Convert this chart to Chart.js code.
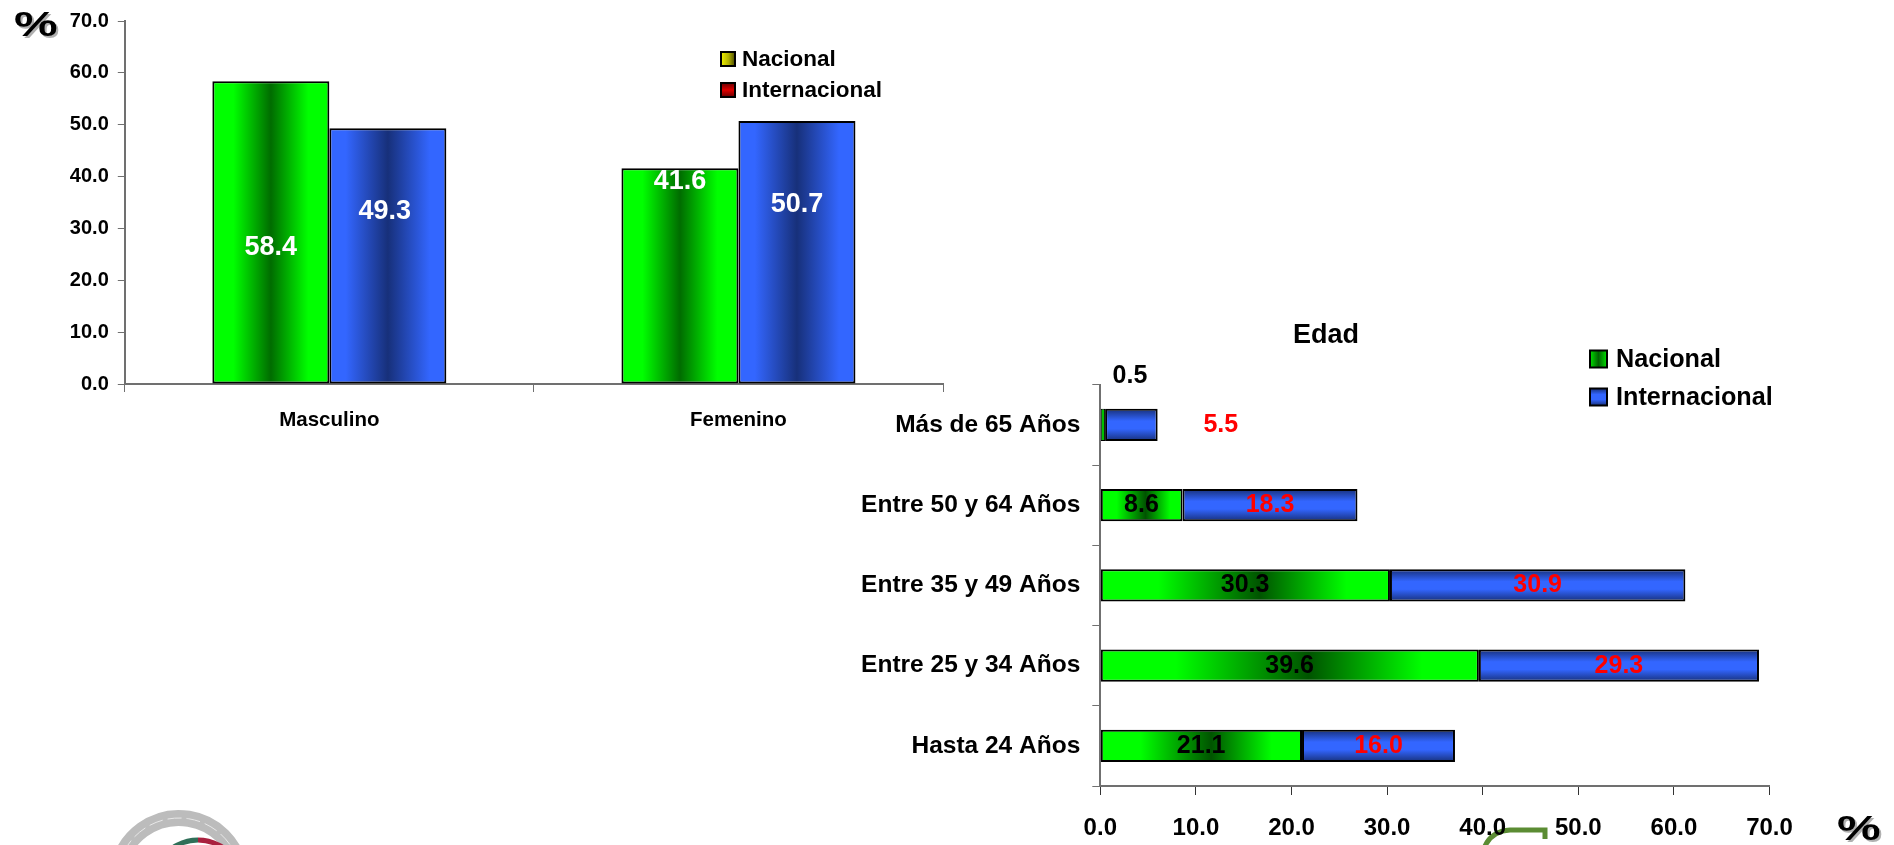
<!DOCTYPE html>
<html>
<head>
<meta charset="utf-8">
<title>Nacional e Internacional</title>
<script src="https://cdn.jsdelivr.net/npm/chart.js@4"></script>
<style>
  html, body { margin: 0; padding: 0; background: #fff; overflow: hidden; }
  canvas { position: absolute; left: 0; top: 0; }
</style>
</head>
<body>
<canvas id="sexChart" width="1894" height="845"></canvas>
<canvas id="ageChart" width="1894" height="845"></canvas>
<script>
// data
const seriesNames = ["Nacional", "Internacional"];

const sexCategories = ["Masculino", "Femenino"];
const sexNacional = [58.4, 41.6];
const sexInternacional = [49.3, 50.7];
// the labels sit by hand inside the bars, height given in axis units
const sexNacionalLabelAt = [26.4, 39.1];
const sexInternacionalLabelAt = [33.2, 34.7];

const ageCategories = ["Más de 65 Años", "Entre 50 y 64 Años", "Entre 35 y 49 Años", "Entre 25 y 34 Años", "Hasta 24 Años"];
const ageNacional = [0.5, 8.6, 30.3, 39.6, 21.1];
const ageInternacional = [5.5, 18.3, 30.9, 29.3, 16.0];

const FONT = '"Liberation Sans", Arial, sans-serif';
Chart.defaults.font.family = FONT;
Chart.defaults.font.weight = "bold";
Chart.defaults.color = "#000";

const AXIS_GRAY = "#707070";
const SEX_GROUP = 0.572; // share of the category taken by the two bars
const AGE_BAR = 0.4;

function stops(g, list) {
  list.forEach(([at, color]) => g.addColorStop(at, color));
  return g;
}
const GREEN_X = [[0, "#00ff00"], [0.18, "#00ff00"], [0.5, "#006c00"], [0.82, "#00ff00"], [1, "#00ff00"]];
const BLUE_X = [[0, "#3366ff"], [0.14, "#3366ff"], [0.5, "#17307a"], [0.86, "#3366ff"], [1, "#3366ff"]];
const GREEN_BAR = [[0, "#00ff00"], [0.2, "#00ff00"], [0.55, "#005400"], [0.85, "#00ff00"], [1, "#00ff00"]];
const BLUE_BAR = [[0, "#17307a"], [0.38, "#3366ff"], [0.62, "#3366ff"], [1, "#17307a"]];

// vertical bars: dark band runs down the middle of each bar
function sexFill(datasetIndex, list) {
  return (c) => {
    const x = c.chart.scales.x;
    if (!x || c.dataIndex === undefined) return list[0][1];
    const centre = x.getPixelForValue(c.dataIndex);
    const w = (x.width / sexCategories.length) * SEX_GROUP / 2;
    const from = centre - w + datasetIndex * w;
    if (!Number.isFinite(from) || !Number.isFinite(w)) return list[0][1]; // scale not laid out yet
    return stops(c.chart.ctx.createLinearGradient(from, 0, from + w, 0), list);
  };
}
function ageGreen(c) {
  const x = c.chart.scales.x;
  if (!x || c.dataIndex === undefined) return "#00ff00";
  const value = ageNacional[c.dataIndex];
  if (value < 1) return "#00c000"; // sliver, no room for the dark band
  const start = x.getPixelForValue(0);
  const end = x.getPixelForValue(value);
  if (!Number.isFinite(start) || !Number.isFinite(end)) return "#00ff00";
  return stops(c.chart.ctx.createLinearGradient(start, 0, end, 0), GREEN_BAR);
}
function ageBlue(c) {
  const y = c.chart.scales.y;
  if (!y || c.dataIndex === undefined) return "#3366ff";
  const centre = y.getPixelForValue(c.dataIndex);
  const half = (y.height / ageCategories.length) * AGE_BAR / 2;
  if (!Number.isFinite(centre) || !Number.isFinite(half)) return "#3366ff";
  return stops(c.chart.ctx.createLinearGradient(0, centre - half, 0, centre + half), BLUE_BAR);
}

function drawLegend(ctx, o) {
  seriesNames.forEach((name, i) => {
    const y = o.y + i * o.step;
    const g = o.vertical[i]
      ? ctx.createLinearGradient(0, y - o.size / 2, 0, y + o.size / 2)
      : ctx.createLinearGradient(o.x, 0, o.x + o.size, 0);
    stops(g, o.fills[i]);
    ctx.fillStyle = g;
    ctx.strokeStyle = "#000";
    ctx.lineWidth = 2;
    ctx.fillRect(o.x, y - o.size / 2, o.size, o.size);
    ctx.strokeRect(o.x, y - o.size / 2, o.size, o.size);
    ctx.fillStyle = "#000";
    ctx.font = `bold ${o.font}px ${FONT}`;
    ctx.textAlign = "left";
    ctx.textBaseline = "middle";
    ctx.fillText(name, o.textX, y + 1);
  });
}

// big wide percent sign with its soft shadow
function drawPercent(ctx, x, y) {
  ctx.save();
  ctx.translate(x, y);
  ctx.scale(1.4, 1);
  ctx.font = `bold 35px ${FONT}`;
  ctx.textAlign = "left";
  ctx.textBaseline = "middle";
  ctx.fillStyle = "#b0b0b0";
  ctx.fillText("%", 1.5, 2);
  ctx.fillStyle = "#000";
  ctx.fillText("%", 0, 0);
  ctx.restore();
}

function drawLabel(ctx, text, x, y, size, color) {
  ctx.font = `bold ${size}px ${FONT}`;
  ctx.fillStyle = color;
  ctx.textAlign = "center";
  ctx.textBaseline = "middle";
  ctx.fillText(text, x, y);
}

const sexDecor = {
  id: "sexDecor",
  beforeDraw(chart) {
    // emblem cut off by the bottom of the page
    const ctx = chart.ctx;
    ctx.save();
    ctx.strokeStyle = "#bcbcbc";
    ctx.lineWidth = 16;
    ctx.beginPath();
    ctx.arc(179, 880, 62, Math.PI * 1.05, Math.PI * 1.95);
    ctx.stroke();
    ctx.strokeStyle = "#e8e8e8";
    ctx.lineWidth = 1;
    ctx.setLineDash([14, 5]);
    ctx.beginPath();
    ctx.arc(179, 880, 62, Math.PI * 1.05, Math.PI * 1.95);
    ctx.stroke();
    ctx.setLineDash([]);
    ctx.lineWidth = 5;
    ctx.strokeStyle = "#2f6f58";
    ctx.beginPath();
    ctx.arc(198, 885, 45, Math.PI * 1.2, Math.PI * 1.5);
    ctx.stroke();
    ctx.strokeStyle = "#a9203e";
    ctx.beginPath();
    ctx.arc(198, 885, 45, Math.PI * 1.5, Math.PI * 1.8);
    ctx.stroke();
    ctx.restore();
  },
  afterDraw(chart) {
    const ctx = chart.ctx;
    const y = chart.scales.y;
    [sexNacional, sexInternacional].forEach((values, ds) => {
      const at = ds === 0 ? sexNacionalLabelAt : sexInternacionalLabelAt;
      chart.getDatasetMeta(ds).data.forEach((bar, i) => {
        const nudge = ds === 1 && i === 0 ? -3 : 0; // 49.3 sits a bit left of centre
        drawLabel(ctx, values[i].toFixed(1), bar.x + nudge, y.getPixelForValue(at[i]), 27, "#fff");
      });
    });
    drawLegend(ctx, {
      x: 721, y: 59, step: 31, size: 14, textX: 742, font: 22.5,
      vertical: [false, true],
      fills: [
        [[0, "#f0f000"], [0.55, "#b0b000"], [1, "#4a4a00"]],
        [[0, "#6a0000"], [0.5, "#e00000"], [1, "#6a0000"]],
      ],
    });
    drawPercent(ctx, 14, 26);
  },
};

const ageDecor = {
  id: "ageDecor",
  beforeDraw(chart) {
    // logo cut off by the bottom of the page
    const ctx = chart.ctx;
    ctx.save();
    ctx.strokeStyle = "#5b8c33";
    ctx.lineWidth = 5;
    ctx.beginPath();
    ctx.moveTo(1485, 846);
    ctx.quadraticCurveTo(1492, 831, 1510, 830);
    ctx.lineTo(1545, 830);
    ctx.lineTo(1545, 839);
    ctx.stroke();
    ctx.restore();
  },
  afterDraw(chart) {
    const ctx = chart.ctx;
    const x = chart.scales.x;
    const y = chart.scales.y;
    ageCategories.forEach((name, i) => {
      const mid = y.getPixelForValue(i);
      const a = ageNacional[i];
      const b = ageInternacional[i];
      if (i === 0) {
        // bar too short to hold them, labels were moved out
        drawLabel(ctx, a.toFixed(1), x.getPixelForValue(3.1), mid - 49, 25, "#000");
        drawLabel(ctx, b.toFixed(1), x.getPixelForValue(12.6), mid, 25, "#ff0000");
      } else {
        drawLabel(ctx, a.toFixed(1), x.getPixelForValue(a / 2), mid, 25, "#000");
        drawLabel(ctx, b.toFixed(1), x.getPixelForValue(a + b / 2), mid, 25, "#ff0000");
      }
    });
    drawLabel(ctx, "Edad", 1326, 336, 27, "#000");
    drawLegend(ctx, {
      x: 1590, y: 359, step: 38, size: 17, textX: 1616, font: 25.2,
      vertical: [false, true],
      fills: [
        [[0, "#00e000"], [0.5, "#006400"], [1, "#00e000"]],
        [[0, "#17307a"], [0.35, "#3366ff"], [0.65, "#3366ff"], [1, "#17307a"]],
      ],
    });
    drawPercent(ctx, 1837, 830);
  },
};

new Chart(document.getElementById("sexChart"), {
  type: "bar",
  data: {
    labels: sexCategories,
    datasets: [
      { label: seriesNames[0], data: sexNacional, backgroundColor: sexFill(0, GREEN_X) },
      { label: seriesNames[1], data: sexInternacional, backgroundColor: sexFill(1, BLUE_X) },
    ],
  },
  options: {
    responsive: false,
    animation: false,
    events: [],
    layout: { padding: { left: 64.8, right: 951, top: 20.3, bottom: 401 } },
    datasets: {
      bar: {
        categoryPercentage: SEX_GROUP,
        barPercentage: 1,
        borderColor: "#000",
        borderWidth: 2,
        borderSkipped: false,
      },
    },
    plugins: { legend: { display: false }, tooltip: { enabled: false } },
    scales: {
      x: {
        afterFit: (s) => { s.height = 60; },
        border: { color: AXIS_GRAY, width: 2 },
        grid: { drawOnChartArea: false, tickLength: 8, tickColor: AXIS_GRAY, offset: true },
        ticks: { font: { size: 20.5 }, padding: 16, autoSkip: false, maxRotation: 0 },
      },
      y: {
        min: 0,
        max: 70,
        afterFit: (s) => { s.width = 60; },
        border: { color: AXIS_GRAY, width: 2 },
        grid: { drawOnChartArea: false, tickLength: 7, tickColor: AXIS_GRAY },
        ticks: { stepSize: 10, font: { size: 20 }, padding: 9, callback: (v) => v.toFixed(1) },
      },
    },
  },
  plugins: [sexDecor],
});

new Chart(document.getElementById("ageChart"), {
  type: "bar",
  data: {
    labels: ageCategories,
    datasets: [
      {
        label: seriesNames[0],
        data: ageNacional,
        backgroundColor: ageGreen,
        borderWidth: (c) => (ageNacional[c.dataIndex] < 1 ? 1 : 2),
      },
      { label: seriesNames[1], data: ageInternacional, backgroundColor: ageBlue },
    ],
  },
  options: {
    indexAxis: "y",
    responsive: false,
    animation: false,
    events: [],
    layout: { padding: { left: 840.3, right: 124.5, top: 384.8, bottom: 9 } },
    datasets: {
      bar: {
        categoryPercentage: 1,
        barPercentage: AGE_BAR,
        borderColor: "#000",
        borderWidth: 2,
        borderSkipped: false,
      },
    },
    plugins: { legend: { display: false }, tooltip: { enabled: false } },
    scales: {
      x: {
        stacked: true,
        min: 0,
        max: 70,
        afterFit: (s) => { s.height = 50; },
        border: { color: AXIS_GRAY, width: 2 },
        grid: { drawOnChartArea: false, tickLength: 9, tickColor: "#333" },
        ticks: { stepSize: 10, font: { size: 24 }, padding: 19, maxRotation: 0, callback: (v) => v.toFixed(1) },
      },
      y: {
        stacked: true,
        afterFit: (s) => { s.width = 260; }, // wide enough or the long labels get cut
        border: { color: AXIS_GRAY, width: 2 },
        grid: { drawOnChartArea: false, tickLength: 8, tickColor: AXIS_GRAY, offset: true },
        ticks: { font: { size: 24.5 }, padding: 12, autoSkip: false },
      },
    },
  },
  plugins: [ageDecor],
});
</script>
</body>
</html>
